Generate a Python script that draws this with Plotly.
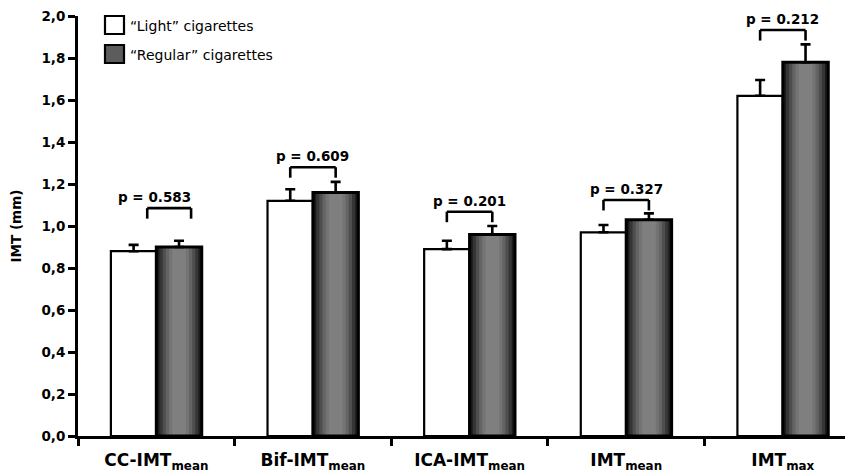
import plotly.graph_objects as go

# ---- data ----
categories = ["CC-IMT<sub>mean</sub>", "Bif-IMT<sub>mean</sub>", "ICA-IMT<sub>mean</sub>",
              "IMT<sub>mean</sub>", "IMT<sub>max</sub>"]
light_mean = [0.88, 1.12, 0.89, 0.97, 1.62]
light_err = [0.03, 0.055, 0.04, 0.035, 0.075]
regular_mean = [0.90, 1.16, 0.96, 1.03, 1.78]
regular_err = [0.03, 0.05, 0.04, 0.03, 0.085]
p_labels = ["p = 0.583", "p = 0.609", "p = 0.201", "p = 0.327", "p = 0.212"]
bracket_tops = [1.085, 1.28, 1.068, 1.124, 1.933]
series_names = ["\u201cLight\u201d cigarettes", "\u201cRegular\u201d cigarettes"]

# ---- style ----
BW = 0.29          # bar width in category units
TICKFONT = "DejaVu Sans, Arial, sans-serif"
# page body has an 8px default margin, so the figure is sized to fill the rest
OFF = 8
ML, MT, MB = 78 - OFF, 16 - OFF, 38
FIG_W, FIG_H = 853 - OFF, 474 - OFF
dom_w, dom_h = FIG_W - ML, FIG_H - MT - MB

fig = go.Figure()

# light bars
fig.add_trace(go.Bar(
    x=categories, y=light_mean, width=[BW] * 5, offset=-BW,
    marker=dict(color="white", line=dict(color="black", width=2.2)),
    error_y=dict(type="data", array=light_err, arrayminus=[0] * 5, symmetric=False,
                 color="black", thickness=2.6, width=5),
    name=series_names[0], showlegend=False,
))

# regular bars: gradient layers
layer_frac = [1.0, 0.86, 0.72, 0.58, 0.44, 0.3]
layer_col = ["#1a1a1a", "#353535", "#4e4e4e", "#646464", "#747474", "#7f7f7f"]
for f, c in zip(layer_frac, layer_col):
    w = BW * f
    fig.add_trace(go.Bar(
        x=categories, y=regular_mean, width=[w] * 5, offset=BW / 2 - w / 2,
        marker=dict(color=c, line=dict(width=0)),
        showlegend=False, hoverinfo="skip",
    ))
# regular outline + error bars
fig.add_trace(go.Bar(
    x=categories, y=regular_mean, width=[BW] * 5, offset=0,
    marker=dict(color="rgba(0,0,0,0)", line=dict(color="black", width=3)),
    error_y=dict(type="data", array=regular_err, arrayminus=[0] * 5, symmetric=False,
                 color="black", thickness=2.6, width=5),
    name=series_names[1], showlegend=False,
))

# significance brackets
shapes = []
annotations = []
leg = 0.05
for i, top in enumerate(bracket_tops):
    if i == 0:
        xl, xr = i - 0.058, i + 0.222
    else:
        xl, xr = i - BW / 2, i + BW / 2
    for (x0, y0, x1, y1) in [(xl, top - leg, xl, top), (xl, top, xr, top), (xr, top, xr, top - leg)]:
        shapes.append(dict(type="line", xref="x", yref="y", x0=x0, y0=y0, x1=x1, y1=y1,
                           line=dict(color="black", width=2.6)))
    annotations.append(dict(x=i - (0.01 if i == 0 else 0), y=top, xref="x", yref="y",
                            text=p_labels[i], showarrow=False, yanchor="bottom", yshift=1,
                            font=dict(family=TICKFONT, size=13.5, color="black", weight="bold")))

# manual legend (positions given in screen pixels of the reference)
def px(xp):
    return (xp - 78) / dom_w
def py(yp):
    return (436 - yp) / dom_h
shapes.append(dict(type="rect", xref="paper", yref="paper", x0=px(105), x1=px(124), y0=py(34), y1=py(16),
                   fillcolor="white", line=dict(color="black", width=2.2)))
shapes.append(dict(type="rect", xref="paper", yref="paper", x0=px(105), x1=px(124), y0=py(63), y1=py(45),
                   fillcolor="#5c5c5c", line=dict(color="black", width=2.2)))
annotations.append(dict(x=px(128), y=py(26), xref="paper", yref="paper", text=series_names[0],
                        showarrow=False, xanchor="left", yanchor="middle",
                        font=dict(family=TICKFONT, size=14, color="black")))
annotations.append(dict(x=px(128), y=py(55), xref="paper", yref="paper", text=series_names[1],
                        showarrow=False, xanchor="left", yanchor="middle",
                        font=dict(family=TICKFONT, size=14, color="black")))

fig.update_layout(
    width=FIG_W, height=FIG_H,
    margin=dict(l=ML, r=0, t=MT, b=MB),
    plot_bgcolor="white", paper_bgcolor="white",
    barmode="overlay",
    separators=",.",
    showlegend=False,
    shapes=shapes, annotations=annotations,
)
fig.update_xaxes(
    type="category", range=[-0.5, 4.448], automargin=False,
    showline=True, linecolor="black", linewidth=3,
    ticks="outside", tickson="boundaries", ticklen=7, tickwidth=3, tickcolor="black",
    ticklabelstandoff=7, ticklabeloverflow="allow",
    tickfont=dict(family=TICKFONT, size=17, color="black", weight="bold"),
    showgrid=False, zeroline=False,
)
fig.update_yaxes(
    range=[0, 2], dtick=0.2, tickformat=".1f", automargin=False,
    showline=True, linecolor="black", linewidth=3,
    ticks="outside", ticklen=7, tickwidth=3, tickcolor="black",
    ticklabeloverflow="allow",
    tickfont=dict(family=TICKFONT, size=13.5, color="black", weight="bold"),
    showgrid=False, zeroline=False,
    title=dict(text="IMT (mm)", standoff=17,
               font=dict(family=TICKFONT, size=13.5, color="black", weight="bold")),
)

fig.write_html("out.html")
